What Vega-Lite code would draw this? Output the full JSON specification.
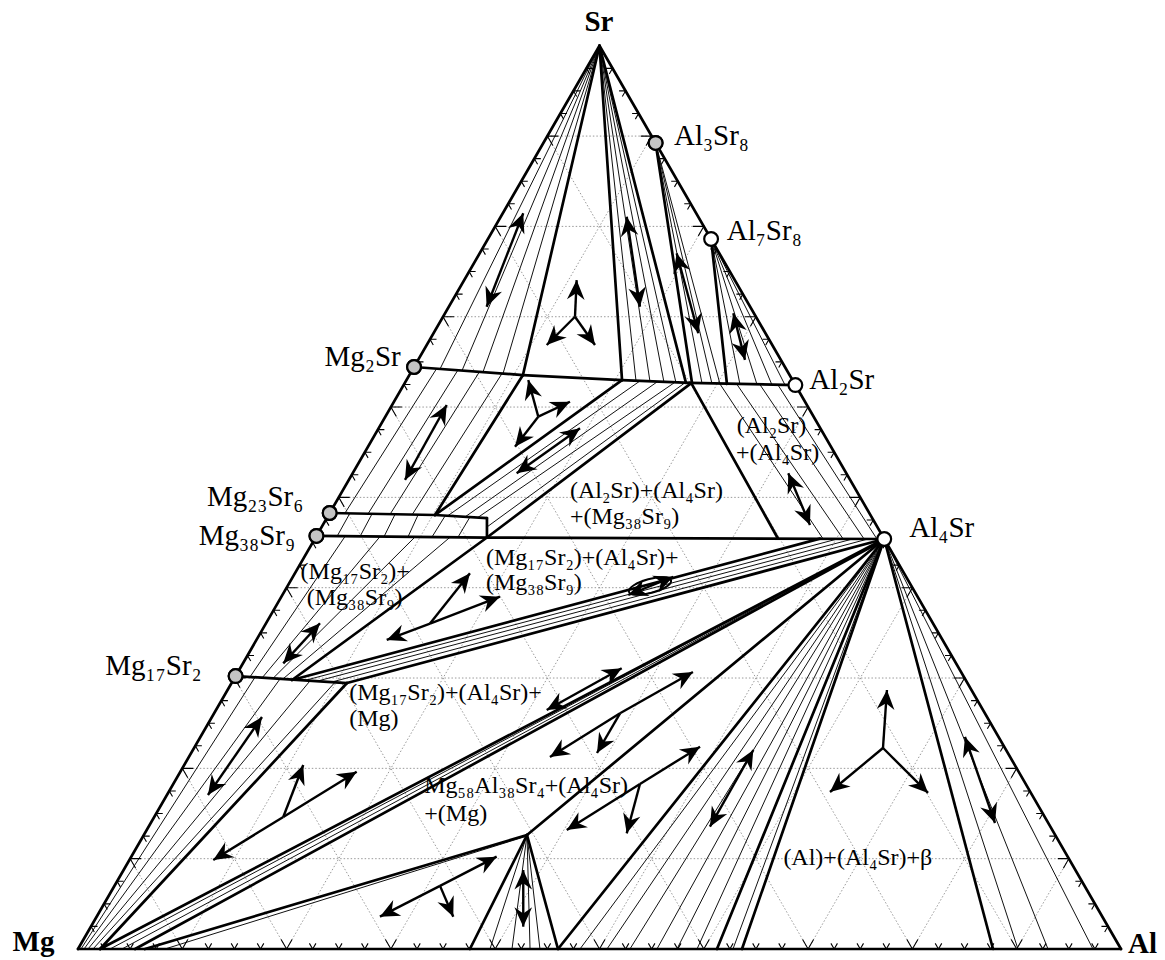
{
"$schema":"https://vega.github.io/schema/vega-lite/v6.json",
"width":1165,"height":960,"padding":0,"autosize":{"type":"none"},
"background":"white",
"config":{"view":{"stroke":null}},
"datasets":{
"grid":[
{"x":5,"y":8.66,"x2":95,"y2":8.66},{"x":10,"y":17.32,"x2":90,"y2":17.32},{"x":15,"y":25.98,"x2":85,"y2":25.98},{"x":20,"y":34.64,"x2":80,"y2":34.64},{"x":25,"y":43.3,"x2":75,"y2":43.3},{"x":30,"y":51.96,"x2":70,"y2":51.96},{"x":35,"y":60.62,"x2":65,"y2":60.62},{"x":40,"y":69.28,"x2":60,"y2":69.28},{"x":45,"y":77.94,"x2":55,"y2":77.94},
{"x":10,"y":0,"x2":55,"y2":77.94},{"x":20,"y":0,"x2":60,"y2":69.28},{"x":30,"y":0,"x2":65,"y2":60.62},{"x":40,"y":0,"x2":70,"y2":51.96},{"x":50,"y":0,"x2":75,"y2":43.3},{"x":60,"y":0,"x2":80,"y2":34.64},{"x":70,"y":0,"x2":85,"y2":25.98},{"x":80,"y":0,"x2":90,"y2":17.32},{"x":90,"y":0,"x2":95,"y2":8.66},
{"x":90,"y":0,"x2":45,"y2":77.94},{"x":80,"y":0,"x2":40,"y2":69.28},{"x":70,"y":0,"x2":35,"y2":60.62},{"x":60,"y":0,"x2":30,"y2":51.96},{"x":50,"y":0,"x2":25,"y2":43.3},{"x":40,"y":0,"x2":20,"y2":34.64},{"x":30,"y":0,"x2":15,"y2":25.98},{"x":20,"y":0,"x2":10,"y2":17.32},{"x":10,"y":0,"x2":5,"y2":8.66}
],
"tie":[
{"x":50,"y":86.6,"x2":34.71,"y2":55.61},{"x":50,"y":86.6,"x2":36.82,"y2":55.46},{"x":50,"y":86.6,"x2":38.83,"y2":55.32},{"x":50,"y":86.6,"x2":40.75,"y2":55.17},
{"x":50,"y":86.6,"x2":53.5,"y2":54.46},{"x":50,"y":86.6,"x2":54.84,"y2":54.41},{"x":50,"y":86.6,"x2":56.18,"y2":54.36},{"x":50,"y":86.6,"x2":57.33,"y2":54.31},
{"x":55.38,"y":77.28,"x2":59.83,"y2":54.22},{"x":55.38,"y":77.28,"x2":60.79,"y2":54.17},{"x":55.38,"y":77.28,"x2":61.55,"y2":54.17},
{"x":60.7,"y":68.07,"x2":63.47,"y2":54.12},{"x":60.7,"y":68.07,"x2":65.1,"y2":54.12},{"x":60.7,"y":68.07,"x2":66.54,"y2":54.07},{"x":60.7,"y":68.07,"x2":67.79,"y2":54.07},
{"x":34.42,"y":55.7,"x2":25.6,"y2":41.8},{"x":36.43,"y":55.51,"x2":27.8,"y2":41.71},{"x":38.54,"y":55.42,"x2":29.91,"y2":41.66},{"x":40.65,"y":55.17,"x2":32.02,"y2":41.61},
{"x":26.08,"y":41.8,"x2":24.83,"y2":39.55},{"x":28.19,"y":41.71,"x2":27.04,"y2":39.55},{"x":30.39,"y":41.66,"x2":29.34,"y2":39.53},{"x":32.6,"y":41.61,"x2":31.64,"y2":39.52},{"x":35.19,"y":41.51,"x2":33.94,"y2":39.5},{"x":37.58,"y":41.42,"x2":36.43,"y2":39.48},
{"x":35.47,"y":41.55,"x2":53.88,"y2":54.46},{"x":37.1,"y":41.42,"x2":55.51,"y2":54.36},{"x":38.35,"y":41.38,"x2":57.14,"y2":54.27},{"x":39.21,"y":40.46,"x2":58.1,"y2":54.22},
{"x":61.55,"y":54.17,"x2":71.43,"y2":39.33},{"x":63.18,"y":54.13,"x2":73.35,"y2":39.33},{"x":65.39,"y":54.1,"x2":75.36,"y2":39.32},{"x":67.11,"y":54.08,"x2":76.6,"y2":39.31},
{"x":25.6,"y":39.55,"x2":16.49,"y2":26.08},{"x":28.95,"y":39.53,"x2":17.64,"y2":25.98},{"x":32.31,"y":39.5,"x2":18.7,"y2":25.95},{"x":35.67,"y":39.48,"x2":19.65,"y2":25.89},
{"x":21.76,"y":25.75,"x2":72.87,"y2":39.33},{"x":23.01,"y":25.7,"x2":74.31,"y2":39.32},{"x":24.35,"y":25.6,"x2":75.74,"y2":39.31},
{"x":0.29,"y":0,"x2":16.97,"y2":26.05},{"x":0.58,"y":0,"x2":19.37,"y2":25.89},{"x":0.96,"y":0,"x2":22.24,"y2":25.7},{"x":1.44,"y":0,"x2":24.64,"y2":25.57},
{"x":3.07,"y":0,"x2":77.27,"y2":39.31},{"x":4.22,"y":0,"x2":77.18,"y2":39.25},
{"x":8.34,"y":0,"x2":43.05,"y2":10.83},
{"x":43.05,"y":10.93,"x2":39.5,"y2":0},{"x":43.05,"y":10.93,"x2":41.61,"y2":0},{"x":43.05,"y":10.93,"x2":43.34,"y2":0},{"x":43.05,"y":10.93,"x2":44.29,"y2":0},
{"x":77.3,"y":39.31,"x2":48.13,"y2":0},{"x":77.3,"y":39.31,"x2":50.72,"y2":0},{"x":77.3,"y":39.31,"x2":52.92,"y2":0},{"x":77.3,"y":39.31,"x2":55.51,"y2":0},{"x":77.3,"y":39.31,"x2":57.43,"y2":0},{"x":77.3,"y":39.31,"x2":59.35,"y2":0},{"x":77.3,"y":39.31,"x2":62.8,"y2":0},
{"x":77.3,"y":39.31,"x2":90.12,"y2":0},{"x":77.3,"y":39.31,"x2":93.0,"y2":0},{"x":77.3,"y":39.31,"x2":97.31,"y2":0}
],
"bound":[
{"x":0,"y":0,"x2":100,"y2":0},{"x":0,"y":0,"x2":50,"y2":86.6},{"x":100,"y":0,"x2":50,"y2":86.6},
{"x":50,"y":86.6,"x2":42.66,"y2":55.03},{"x":50,"y":86.6,"x2":52.16,"y2":54.55},{"x":50,"y":86.6,"x2":58.29,"y2":54.27},
{"x":55.38,"y":77.28,"x2":58.87,"y2":54.27},{"x":60.7,"y":68.07,"x2":62.22,"y2":54.17},
{"x":32.22,"y":55.8,"x2":42.66,"y2":55.03},{"x":42.66,"y":55.03,"x2":52.16,"y2":54.55},{"x":52.16,"y":54.55,"x2":58.68,"y2":54.27},{"x":58.68,"y":54.27,"x2":68.78,"y2":54.07},
{"x":42.66,"y":55.03,"x2":34.23,"y2":41.61},{"x":52.16,"y":54.55,"x2":34.23,"y2":41.61},
{"x":58.8,"y":54.25,"x2":39.21,"y2":39.45},{"x":58.8,"y":54.25,"x2":67.11,"y2":39.36},
{"x":24.13,"y":41.8,"x2":34.23,"y2":41.61},{"x":34.23,"y":41.61,"x2":39.21,"y2":41.32},{"x":39.21,"y":41.32,"x2":39.21,"y2":39.45},
{"x":22.86,"y":39.6,"x2":39.21,"y2":39.45},{"x":39.21,"y":39.45,"x2":77.3,"y2":39.31},
{"x":39.21,"y":39.45,"x2":20.52,"y2":25.79},{"x":20.52,"y":25.79,"x2":71.14,"y2":39.35},{"x":25.79,"y":25.5,"x2":77.3,"y2":39.31},
{"x":15.11,"y":26.17,"x2":25.79,"y2":25.5},{"x":25.79,"y":25.5,"x2":2.11,"y2":0},
{"x":2.11,"y":0,"x2":77.3,"y2":39.31},{"x":5.47,"y":0,"x2":77.08,"y2":39.12},
{"x":6.42,"y":0,"x2":43.05,"y2":10.93},{"x":43.05,"y":10.93,"x2":77.3,"y2":39.31},
{"x":43.05,"y":10.93,"x2":37.58,"y2":0},{"x":43.05,"y":10.93,"x2":46.02,"y2":0},
{"x":46.02,"y":0,"x2":77.3,"y2":39.31},{"x":61.26,"y":0,"x2":77.3,"y2":39.31},{"x":63.66,"y":0,"x2":77.3,"y2":39.31},{"x":87.73,"y":0,"x2":77.3,"y2":39.31}
],
"shafts":[
{"x":42.69,"y":70.54,"x2":39.18,"y2":61.58},
{"x":47.65,"y":60.62,"x2":47.81,"y2":64.13},{"x":47.65,"y":60.62,"x2":44.94,"y2":57.91},{"x":47.65,"y":60.62,"x2":49.57,"y2":57.91},
{"x":52.61,"y":70.21,"x2":53.88,"y2":61.58},
{"x":57.4,"y":66.7,"x2":59.47,"y2":59.03},
{"x":62.83,"y":60.95,"x2":63.95,"y2":56.48},
{"x":35.35,"y":52.16,"x2":31.35,"y2":44.97},
{"x":44.13,"y":51.04,"x2":43.17,"y2":54.55},{"x":44.13,"y":51.04,"x2":47.17,"y2":52.47},{"x":44.13,"y":51.04,"x2":41.9,"y2":48.16},
{"x":42.06,"y":45.61,"x2":48.13,"y2":49.92},
{"x":68.1,"y":45.61,"x2":70.18,"y2":40.65},
{"x":23.2,"y":31.23,"x2":19.68,"y2":27.39},
{"x":33.75,"y":31.2,"x2":37.58,"y2":36.02},{"x":33.75,"y":31.2,"x2":40.46,"y2":33.78},{"x":33.75,"y":31.2,"x2":29.6,"y2":29.63},
{"x":52.76,"y":33.94,"x2":57.08,"y2":35.69},
{"x":17.64,"y":22.24,"x2":12.46,"y2":14.77},
{"x":19.68,"y":12.66,"x2":26.72,"y2":17.0},{"x":19.68,"y":12.66,"x2":21.6,"y2":17.64},{"x":19.68,"y":12.66,"x2":12.97,"y2":8.53},
{"x":44.94,"y":22.91,"x2":52.13,"y2":26.91},
{"x":51.97,"y":22.6,"x2":45.25,"y2":18.41},{"x":51.97,"y":22.6,"x2":58.96,"y2":26.56},{"x":51.97,"y":22.6,"x2":49.76,"y2":18.79},
{"x":53.88,"y":15.82,"x2":46.86,"y2":11.41},{"x":53.88,"y":15.82,"x2":59.64,"y2":19.4},{"x":53.88,"y":15.82,"x2":52.61,"y2":11.09},
{"x":60.59,"y":11.73,"x2":64.75,"y2":19.08},
{"x":77.18,"y":19.27,"x2":77.56,"y2":24.83},{"x":77.18,"y":19.27,"x2":72.1,"y2":15.05},{"x":77.18,"y":19.27,"x2":81.5,"y2":14.96},
{"x":85.04,"y":20.33,"x2":87.92,"y2":12.08},
{"x":34.71,"y":6.05,"x2":28.95,"y2":3.1},{"x":34.71,"y":6.05,"x2":40.14,"y2":8.85},{"x":34.71,"y":6.05,"x2":35.98,"y2":3.1},
{"x":42.69,"y":7.57,"x2":42.69,"y2":2.14}
],
"heads":[
{"x":42.69,"y":70.54,"a":21.4},{"x":39.18,"y":61.58,"a":201.4},
{"x":47.81,"y":64.13,"a":2.6},{"x":44.94,"y":57.91,"a":225},{"x":49.57,"y":57.91,"a":144.7},
{"x":52.61,"y":70.21,"a":351.6},{"x":53.88,"y":61.58,"a":171.6},
{"x":57.4,"y":66.7,"a":344.9},{"x":59.47,"y":59.03,"a":164.9},
{"x":62.83,"y":60.95,"a":345.9},{"x":63.95,"y":56.48,"a":165.9},
{"x":35.35,"y":52.16,"a":29.1},{"x":31.35,"y":44.97,"a":209.1},
{"x":43.17,"y":54.55,"a":344.7},{"x":47.17,"y":52.47,"a":64.8},{"x":41.9,"y":48.16,"a":217.8},
{"x":42.06,"y":45.61,"a":234.6},{"x":48.13,"y":49.92,"a":54.6},
{"x":68.1,"y":45.61,"a":337.2},{"x":70.18,"y":40.65,"a":157.2},
{"x":23.2,"y":31.23,"a":42.5},{"x":19.68,"y":27.39,"a":222.5},
{"x":37.58,"y":36.02,"a":38.5},{"x":40.46,"y":33.78,"a":69.0},{"x":29.6,"y":29.63,"a":249.3},
{"x":52.76,"y":33.94,"a":247.9},{"x":57.08,"y":35.69,"a":67.9},
{"x":17.64,"y":22.24,"a":34.7},{"x":12.46,"y":14.77,"a":214.7},
{"x":26.72,"y":17.0,"a":58.4},{"x":21.6,"y":17.64,"a":21.1},{"x":12.97,"y":8.53,"a":238.4},
{"x":44.94,"y":22.91,"a":240.9},{"x":52.13,"y":26.91,"a":60.9},
{"x":45.25,"y":18.41,"a":238.1},{"x":58.96,"y":26.56,"a":60.5},{"x":49.76,"y":18.79,"a":210.1},
{"x":46.86,"y":11.41,"a":237.9},{"x":59.64,"y":19.4,"a":58.1},{"x":52.61,"y":11.09,"a":195.0},
{"x":60.59,"y":11.73,"a":209.5},{"x":64.75,"y":19.08,"a":29.5},
{"x":77.56,"y":24.83,"a":3.9},{"x":72.1,"y":15.05,"a":230.3},{"x":81.5,"y":14.96,"a":134.9},
{"x":85.04,"y":20.33,"a":340.8},{"x":87.92,"y":12.08,"a":160.8},
{"x":28.95,"y":3.1,"a":242.9},{"x":40.14,"y":8.85,"a":62.7},{"x":35.98,"y":3.1,"a":156.7},
{"x":42.69,"y":7.57,"a":0},{"x":42.69,"y":2.14,"a":180}
],
"tb":[
{"x":2.5,"y":0,"t":"minor"},{"x":5,"y":0,"t":"minor"},{"x":7.5,"y":0,"t":"minor"},{"x":10,"y":0,"t":"major"},{"x":12.5,"y":0,"t":"minor"},{"x":15,"y":0,"t":"minor"},{"x":17.5,"y":0,"t":"minor"},{"x":20,"y":0,"t":"major"},{"x":22.5,"y":0,"t":"minor"},{"x":25,"y":0,"t":"minor"},{"x":27.5,"y":0,"t":"minor"},{"x":30,"y":0,"t":"major"},{"x":32.5,"y":0,"t":"minor"},{"x":35,"y":0,"t":"minor"},{"x":37.5,"y":0,"t":"minor"},{"x":40,"y":0,"t":"major"},{"x":42.5,"y":0,"t":"minor"},{"x":45,"y":0,"t":"minor"},{"x":47.5,"y":0,"t":"minor"},{"x":50,"y":0,"t":"major"},{"x":52.5,"y":0,"t":"minor"},{"x":55,"y":0,"t":"minor"},{"x":57.5,"y":0,"t":"minor"},{"x":60,"y":0,"t":"major"},{"x":62.5,"y":0,"t":"minor"},{"x":65,"y":0,"t":"minor"},{"x":67.5,"y":0,"t":"minor"},{"x":70,"y":0,"t":"major"},{"x":72.5,"y":0,"t":"minor"},{"x":75,"y":0,"t":"minor"},{"x":77.5,"y":0,"t":"minor"},{"x":80,"y":0,"t":"major"},{"x":82.5,"y":0,"t":"minor"},{"x":85,"y":0,"t":"minor"},{"x":87.5,"y":0,"t":"minor"},{"x":90,"y":0,"t":"major"},{"x":92.5,"y":0,"t":"minor"},{"x":95,"y":0,"t":"minor"},{"x":97.5,"y":0,"t":"minor"}
],
"tl":[
{"x":1.25,"y":2.165,"t":"minor"},{"x":2.5,"y":4.33,"t":"minor"},{"x":3.75,"y":6.495,"t":"minor"},{"x":5,"y":8.66,"t":"major"},{"x":6.25,"y":10.825,"t":"minor"},{"x":7.5,"y":12.99,"t":"minor"},{"x":8.75,"y":15.155,"t":"minor"},{"x":10,"y":17.32,"t":"major"},{"x":11.25,"y":19.485,"t":"minor"},{"x":12.5,"y":21.65,"t":"minor"},{"x":13.75,"y":23.815,"t":"minor"},{"x":15,"y":25.98,"t":"major"},{"x":16.25,"y":28.145,"t":"minor"},{"x":17.5,"y":30.31,"t":"minor"},{"x":18.75,"y":32.475,"t":"minor"},{"x":20,"y":34.64,"t":"major"},{"x":21.25,"y":36.805,"t":"minor"},{"x":22.5,"y":38.97,"t":"minor"},{"x":23.75,"y":41.135,"t":"minor"},{"x":25,"y":43.3,"t":"major"},{"x":26.25,"y":45.465,"t":"minor"},{"x":27.5,"y":47.63,"t":"minor"},{"x":28.75,"y":49.795,"t":"minor"},{"x":30,"y":51.96,"t":"major"},{"x":31.25,"y":54.125,"t":"minor"},{"x":32.5,"y":56.29,"t":"minor"},{"x":33.75,"y":58.455,"t":"minor"},{"x":35,"y":60.62,"t":"major"},{"x":36.25,"y":62.785,"t":"minor"},{"x":37.5,"y":64.95,"t":"minor"},{"x":38.75,"y":67.115,"t":"minor"},{"x":40,"y":69.28,"t":"major"},{"x":41.25,"y":71.445,"t":"minor"},{"x":42.5,"y":73.61,"t":"minor"},{"x":43.75,"y":75.775,"t":"minor"},{"x":45,"y":77.94,"t":"major"},{"x":46.25,"y":80.105,"t":"minor"},{"x":47.5,"y":82.27,"t":"minor"},{"x":48.75,"y":84.435,"t":"minor"}
],
"tr":[
{"x":98.75,"y":2.165,"t":"minor"},{"x":97.5,"y":4.33,"t":"minor"},{"x":96.25,"y":6.495,"t":"minor"},{"x":95,"y":8.66,"t":"major"},{"x":93.75,"y":10.825,"t":"minor"},{"x":92.5,"y":12.99,"t":"minor"},{"x":91.25,"y":15.155,"t":"minor"},{"x":90,"y":17.32,"t":"major"},{"x":88.75,"y":19.485,"t":"minor"},{"x":87.5,"y":21.65,"t":"minor"},{"x":86.25,"y":23.815,"t":"minor"},{"x":85,"y":25.98,"t":"major"},{"x":83.75,"y":28.145,"t":"minor"},{"x":82.5,"y":30.31,"t":"minor"},{"x":81.25,"y":32.475,"t":"minor"},{"x":80,"y":34.64,"t":"major"},{"x":78.75,"y":36.805,"t":"minor"},{"x":77.5,"y":38.97,"t":"minor"},{"x":76.25,"y":41.135,"t":"minor"},{"x":75,"y":43.3,"t":"major"},{"x":73.75,"y":45.465,"t":"minor"},{"x":72.5,"y":47.63,"t":"minor"},{"x":71.25,"y":49.795,"t":"minor"},{"x":70,"y":51.96,"t":"major"},{"x":68.75,"y":54.125,"t":"minor"},{"x":67.5,"y":56.29,"t":"minor"},{"x":66.25,"y":58.455,"t":"minor"},{"x":65,"y":60.62,"t":"major"},{"x":63.75,"y":62.785,"t":"minor"},{"x":62.5,"y":64.95,"t":"minor"},{"x":61.25,"y":67.115,"t":"minor"},{"x":60,"y":69.28,"t":"major"},{"x":58.75,"y":71.445,"t":"minor"},{"x":57.5,"y":73.61,"t":"minor"},{"x":56.25,"y":75.775,"t":"minor"},{"x":55,"y":77.94,"t":"major"},{"x":53.75,"y":80.105,"t":"minor"},{"x":52.5,"y":82.27,"t":"minor"},{"x":51.25,"y":84.435,"t":"minor"}
],
"compounds":[
{"name":"Al3Sr8","x":55.38,"y":77.28},{"name":"Al7Sr8","x":60.7,"y":68.07},{"name":"Al2Sr","x":68.78,"y":54.07},{"name":"Al4Sr","x":77.3,"y":39.31},
{"name":"Mg2Sr","x":32.22,"y":55.8},{"name":"Mg23Sr6","x":24.13,"y":41.8},{"name":"Mg38Sr9","x":22.86,"y":39.6},{"name":"Mg17Sr2","x":15.11,"y":26.17}
],
"lens":[{"x":54.84,"y":34.8}],
"corners":[{"text":"Sr","x":49.95,"y":88.91},{"text":"Mg","x":-4.27,"y":0.69},{"text":"Al","x":102.06,"y":0.45}],
"labR":[{"text":"Al₃Sr₈","x":57.14,"y":77.93},{"text":"Al₇Sr₈","x":62.2,"y":68.84},{"text":"Al₂Sr","x":70.12,"y":54.55},{"text":"Al₄Sr","x":79.71,"y":40.38}],
"labL":[{"text":"Mg₂Sr","x":30.94,"y":56.74},{"text":"Mg₂₃Sr₆","x":21.6,"y":43.37},{"text":"Mg₃₈Sr₉","x":20.81,"y":39.61},{"text":"Mg₁₇Sr₂","x":11.86,"y":27.15}],
"regions":[
{"text":"(Al₂Sr)","x":63.15,"y":50.19},{"text":"+(Al₄Sr)","x":63.08,"y":47.54},
{"text":"(Al₂Sr)+(Al₄Sr)","x":47.17,"y":43.94},{"text":"+(Mg₃₈Sr₉)","x":47.17,"y":41.39},
{"text":"(Mg₁₇Sr₂)+(Al₄Sr)+","x":39.12,"y":37.46},{"text":"(Mg₃₈Sr₉)","x":39.12,"y":35.06},
{"text":"(Mg₁₇Sr₂)+","x":21.34,"y":36.17},{"text":"(Mg₃₈Sr₉)","x":21.93,"y":33.62},
{"text":"(Mg₁₇Sr₂)+(Al₄Sr)+","x":26.01,"y":24.57},{"text":"(Mg)","x":26.01,"y":22.02},
{"text":"Mg₅₈Al₃₈Sr₄+(Al₄Sr)","x":33.2,"y":15.63},{"text":"+(Mg)","x":33.2,"y":12.94},
{"text":"(Al)+(Al₄Sr)+β","x":67.63,"y":8.7}
]
},
"layer":[
{"data":{"name":"grid"},"mark":{"type":"rule","color":"#9a9a9a","strokeWidth":1,"strokeDash":[1.5,2]},
 "encoding":{"x":{"field":"x","type":"quantitative","scale":{"domain":[-7.478,104.219],"nice":false,"zero":false},"axis":null},"y":{"field":"y","type":"quantitative","scale":{"domain":[-1.055,90.987],"nice":false,"zero":false},"axis":null},"x2":{"field":"x2"},"y2":{"field":"y2"}}},
{"data":{"name":"tie"},"mark":{"type":"rule","color":"#111","strokeWidth":1},
 "encoding":{"x":{"field":"x","type":"quantitative","scale":{"domain":[-7.478,104.219],"nice":false,"zero":false},"axis":null},"y":{"field":"y","type":"quantitative","scale":{"domain":[-1.055,90.987],"nice":false,"zero":false},"axis":null},"x2":{"field":"x2"},"y2":{"field":"y2"}}},
{"data":{"name":"bound"},"mark":{"type":"rule","color":"#000","strokeWidth":2.7,"strokeCap":"round"},
 "encoding":{"x":{"field":"x","type":"quantitative","scale":{"domain":[-7.478,104.219],"nice":false,"zero":false},"axis":null},"y":{"field":"y","type":"quantitative","scale":{"domain":[-1.055,90.987],"nice":false,"zero":false},"axis":null},"x2":{"field":"x2"},"y2":{"field":"y2"}}},
{"data":{"name":"lens"},"mark":{"type":"point","shape":"M-1,0A1,0.32 0 1,0 1,0A1,0.32 0 1,0 -1,0Z","angle":345,"filled":false,"stroke":"#000","strokeWidth":2,"opacity":1,"size":1900},
 "encoding":{"x":{"field":"x","type":"quantitative","scale":{"domain":[-7.478,104.219],"nice":false,"zero":false},"axis":null},"y":{"field":"y","type":"quantitative","scale":{"domain":[-1.055,90.987],"nice":false,"zero":false},"axis":null}}},
{"data":{"name":"tb"},"mark":{"type":"point","shape":"M-0.5,-0.866L0,0L0.5,-0.866","filled":false,"stroke":"#000","strokeWidth":1.1,"opacity":1},
 "encoding":{"x":{"field":"x","type":"quantitative","scale":{"domain":[-7.478,104.219],"nice":false,"zero":false},"axis":null},"y":{"field":"y","type":"quantitative","scale":{"domain":[-1.055,90.987],"nice":false,"zero":false},"axis":null},"size":{"field":"t","type":"nominal","scale":{"domain":["minor","major"],"range":[170,480]},"legend":null}}},
{"data":{"name":"tl"},"mark":{"type":"point","shape":"M1,0L0,0L0.5,0.866","filled":false,"stroke":"#000","strokeWidth":1.1,"opacity":1},
 "encoding":{"x":{"field":"x","type":"quantitative","scale":{"domain":[-7.478,104.219],"nice":false,"zero":false},"axis":null},"y":{"field":"y","type":"quantitative","scale":{"domain":[-1.055,90.987],"nice":false,"zero":false},"axis":null},"size":{"field":"t","type":"nominal","scale":{"domain":["minor","major"],"range":[170,480]},"legend":null}}},
{"data":{"name":"tr"},"mark":{"type":"point","shape":"M-1,0L0,0L-0.5,0.866","filled":false,"stroke":"#000","strokeWidth":1.1,"opacity":1},
 "encoding":{"x":{"field":"x","type":"quantitative","scale":{"domain":[-7.478,104.219],"nice":false,"zero":false},"axis":null},"y":{"field":"y","type":"quantitative","scale":{"domain":[-1.055,90.987],"nice":false,"zero":false},"axis":null},"size":{"field":"t","type":"nominal","scale":{"domain":["minor","major"],"range":[170,480]},"legend":null}}},
{"data":{"name":"shafts"},"mark":{"type":"rule","color":"#000","strokeWidth":2.4},
 "encoding":{"x":{"field":"x","type":"quantitative","scale":{"domain":[-7.478,104.219],"nice":false,"zero":false},"axis":null},"y":{"field":"y","type":"quantitative","scale":{"domain":[-1.055,90.987],"nice":false,"zero":false},"axis":null},"x2":{"field":"x2"},"y2":{"field":"y2"}}},
{"data":{"name":"heads"},"mark":{"type":"point","shape":"M0,0L0.5,1.1L0,0.75L-0.5,1.1Z","filled":true,"color":"#000","opacity":1,"size":1250},
 "encoding":{"x":{"field":"x","type":"quantitative","scale":{"domain":[-7.478,104.219],"nice":false,"zero":false},"axis":null},"y":{"field":"y","type":"quantitative","scale":{"domain":[-1.055,90.987],"nice":false,"zero":false},"axis":null},"angle":{"field":"a","type":"quantitative","scale":null}}},
{"data":{"name":"compounds"},"mark":{"type":"point","shape":"circle","filled":true,"fill":"#ffffff","stroke":"#000","strokeWidth":2.2,"opacity":1,"size":190},
 "encoding":{"x":{"field":"x","type":"quantitative","scale":{"domain":[-7.478,104.219],"nice":false,"zero":false},"axis":null},"y":{"field":"y","type":"quantitative","scale":{"domain":[-1.055,90.987],"nice":false,"zero":false},"axis":null}}},
{"data":{"name":"compounds"},"transform":[{"filter":{"field":"name","oneOf":["Al3Sr8","Mg2Sr","Mg23Sr6","Mg38Sr9","Mg17Sr2"]}}],"mark":{"type":"point","shape":"circle","filled":true,"fill":"#c4c4c4","stroke":"#000","strokeWidth":2.2,"opacity":1,"size":190},
 "encoding":{"x":{"field":"x","type":"quantitative","scale":{"domain":[-7.478,104.219],"nice":false,"zero":false},"axis":null},"y":{"field":"y","type":"quantitative","scale":{"domain":[-1.055,90.987],"nice":false,"zero":false},"axis":null}}},
{"data":{"name":"corners"},"mark":{"type":"text","font":"Liberation Serif","fontWeight":"bold","fontSize":29,"align":"center","baseline":"middle","color":"#000"},
 "encoding":{"x":{"field":"x","type":"quantitative","scale":{"domain":[-7.478,104.219],"nice":false,"zero":false},"axis":null},"y":{"field":"y","type":"quantitative","scale":{"domain":[-1.055,90.987],"nice":false,"zero":false},"axis":null},"text":{"field":"text"}}},
{"data":{"name":"labR"},"mark":{"type":"text","font":"Liberation Serif","fontSize":29,"align":"left","baseline":"middle","color":"#000"},
 "encoding":{"x":{"field":"x","type":"quantitative","scale":{"domain":[-7.478,104.219],"nice":false,"zero":false},"axis":null},"y":{"field":"y","type":"quantitative","scale":{"domain":[-1.055,90.987],"nice":false,"zero":false},"axis":null},"text":{"field":"text"}}},
{"data":{"name":"labL"},"mark":{"type":"text","font":"Liberation Serif","fontSize":29,"align":"right","baseline":"middle","color":"#000"},
 "encoding":{"x":{"field":"x","type":"quantitative","scale":{"domain":[-7.478,104.219],"nice":false,"zero":false},"axis":null},"y":{"field":"y","type":"quantitative","scale":{"domain":[-1.055,90.987],"nice":false,"zero":false},"axis":null},"text":{"field":"text"}}},
{"data":{"name":"regions"},"mark":{"type":"text","font":"Liberation Serif","fontSize":24,"align":"left","baseline":"middle","color":"#000"},
 "encoding":{"x":{"field":"x","type":"quantitative","scale":{"domain":[-7.478,104.219],"nice":false,"zero":false},"axis":null},"y":{"field":"y","type":"quantitative","scale":{"domain":[-1.055,90.987],"nice":false,"zero":false},"axis":null},"text":{"field":"text"}}}
]
}
